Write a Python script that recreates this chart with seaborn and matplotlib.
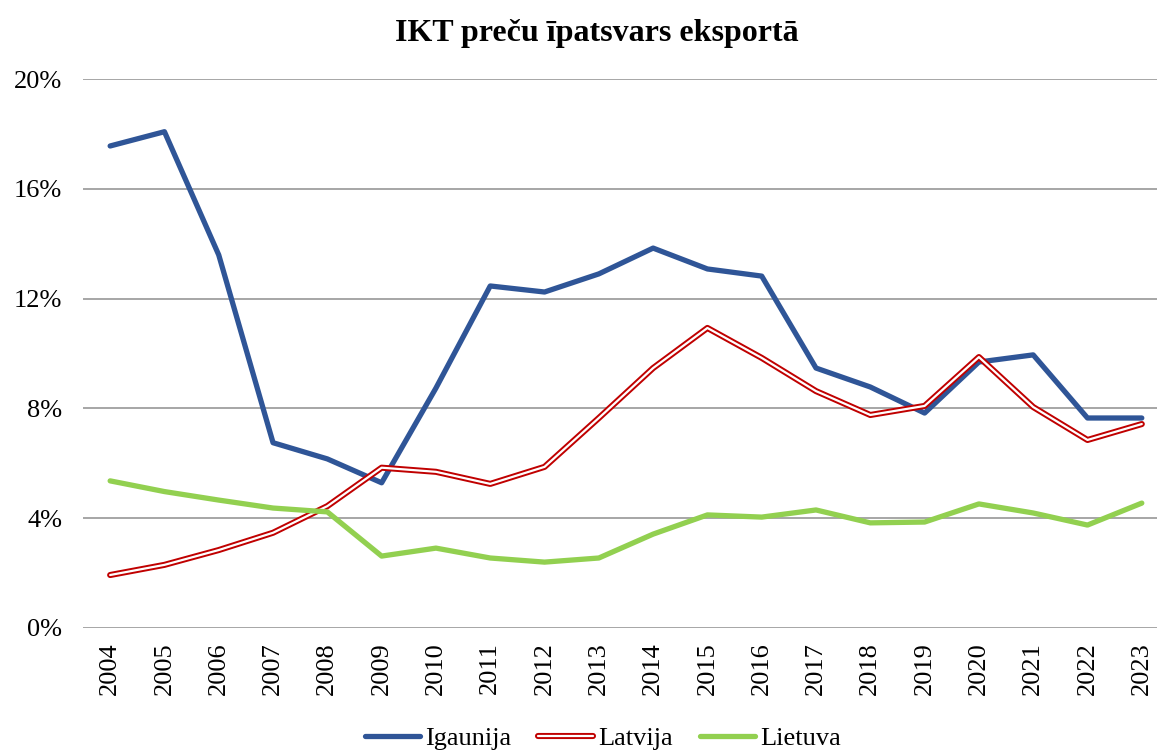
import pandas as pd
import matplotlib
matplotlib.use("Agg")
import matplotlib.pyplot as plt
import matplotlib.patheffects as pe
from matplotlib.ticker import PercentFormatter
import seaborn as sns

# data (percent)
years = list(range(2004, 2024))
igaunija = [17.56, 18.08, 13.59, 6.75, 6.16, 5.29, 8.74, 12.46, 12.24, 12.90,
            13.84, 13.08, 12.82, 9.47, 8.78, 7.83, 9.69, 9.95, 7.65, 7.65]
latvija = [1.93, 2.30, 2.84, 3.47, 4.44, 5.84, 5.69, 5.25, 5.87, 7.65,
           9.47, 10.93, 9.84, 8.63, 7.76, 8.09, 9.87, 8.05, 6.85, 7.43]
lietuva = [5.36, 4.97, 4.66, 4.37, 4.23, 2.62, 2.91, 2.55, 2.40, 2.55,
           3.42, 4.12, 4.04, 4.30, 3.83, 3.86, 4.52, 4.19, 3.75, 4.55]
countries = ["Igaunija", "Latvija", "Lietuva"]
colors = ["#2F5597", "#C00000", "#92D050"]

df = pd.DataFrame({
    "year": years * 3,
    "value": igaunija + latvija + lietuva,
    "country": [c for c in countries for _ in years],
})

sns.set_style("white")
plt.rcParams["font.family"] = ["Liberation Serif", "DejaVu Serif"]
plt.rcParams["text.color"] = "black"
plt.rcParams["xtick.color"] = "black"
plt.rcParams["ytick.color"] = "black"

fig = plt.figure(figsize=(11.57, 7.51), dpi=100)
ax = fig.add_axes([83 / 1157, 123 / 751, 1 - 83 / 1157, 549 / 751])

sns.lineplot(data=df, x="year", y="value", hue="country", palette=colors,
             hue_order=countries, sort=False, linewidth=3.8, ax=ax,
             legend=True)

# style each line; Latvija is a red double line (red outline, white core)
for line, name in zip(ax.get_lines(), countries):
    line.set_solid_capstyle("round")
    line.set_solid_joinstyle("round")
    if name == "Latvija":
        line.set_color("white")
        line.set_linewidth(1.6)
        line.set_path_effects([pe.Stroke(linewidth=4.4, foreground="#C00000"),
                               pe.Normal()])

ax.set_ylim(0, 20)
ax.set_yticks([0, 4, 8, 12, 16, 20])
ax.yaxis.set_major_formatter(PercentFormatter(decimals=0))
ax.set_xlim(2003.5, 2023.28)
ax.set_xticks(years)
ax.set_xticklabels([str(y) for y in years], rotation=90)
ax.tick_params(axis="y", labelsize=19, length=0, pad=15)
ax.tick_params(axis="x", labelsize=19, length=0, pad=10)
ax.set_xlabel("")
ax.set_ylabel("")
ax.grid(axis="y", color="#A6A6A6", linewidth=1.4)
ax.grid(axis="x", visible=False)
sns.despine(ax=ax, left=True, bottom=True)

fig.text(0.516, 0.955, "IKT preču īpatsvars eksportā", ha="center", va="center",
         fontsize=23, fontweight="bold")

handles, labels = ax.get_legend_handles_labels()
for h, name in zip(handles, countries):
    h.set_solid_capstyle("round")
    if name == "Latvija":
        h.set_color("white")
        h.set_linewidth(1.6)
        h.set_path_effects([pe.Stroke(linewidth=4.4, foreground="#C00000"),
                            pe.Normal()])
ax.legend(handles, labels, loc="center", bbox_to_anchor=(0.521, 0.017),
          bbox_transform=fig.transFigure, ncol=3, frameon=False, fontsize=19,
          handlelength=2.1, handletextpad=0.2, columnspacing=1.0)

fig.savefig("out.png", dpi=100)
